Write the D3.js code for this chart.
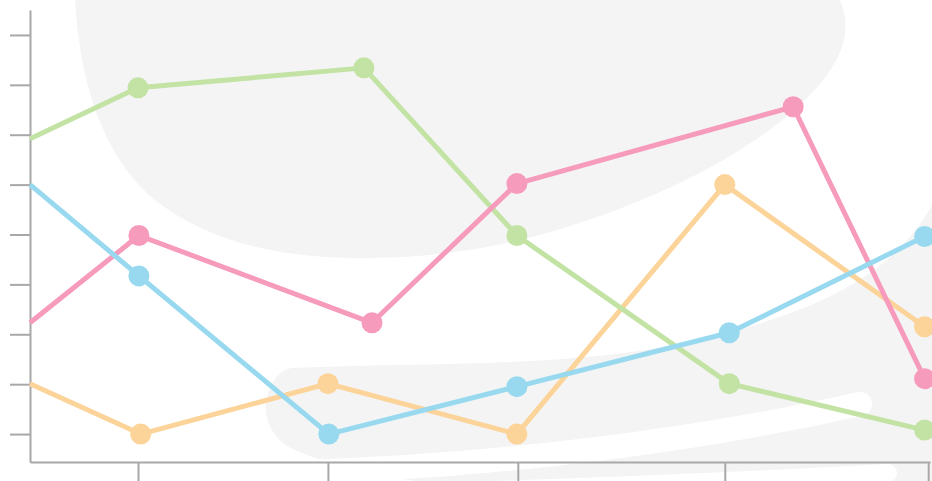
<!DOCTYPE html>
<html lang="en">
<head>
  <meta charset="utf-8">
  <title>Pastel lines</title>
  <style>
    html,body { margin:0; padding:0; overflow:hidden; background:#fff; }
    svg { display:block; }
    .axis path, .axis line { stroke:#a8a8a8; stroke-width:2px; }
  </style>
  <script src="https://d3js.org/d3.v7.min.js"></script>
</head>
<body>
  <svg width="932" height="481"></svg>
  <script>
  const width = 932, height = 481;

  /* ---- data ---- */
  const xTicks = [1.2, 3.31, 5.42, 7.72, 9.98];
  const yTicks = [1, 2, 3, 4, 5, 6, 7, 8, 9];

  const greenX  = [0, 1.2, 3.71, 5.41, 7.77, 9.94];
  const greenY  = [6.92, 7.94, 8.34, 4.98, 2.01, 1.08];
  const pinkX   = [0, 1.21, 3.8, 5.41, 8.48, 9.94];
  const pinkY   = [3.23, 4.98, 3.23, 6.02, 7.56, 2.11];
  const blueX   = [0, 1.21, 3.32, 5.41, 7.77, 9.94];
  const blueY   = [6.0, 4.17, 1.0, 1.95, 3.03, 4.96];
  const orangeX = [0, 1.23, 3.31, 5.41, 7.72, 9.94];
  const orangeY = [2.01, 1.0, 2.01, 1.0, 6.0, 3.15];

  const series = [
    { name: "orange", color: "#fcd398", xs: orangeX, ys: orangeY },
    { name: "green",  color: "#c2e3a4", xs: greenX,  ys: greenY },
    { name: "pink",   color: "#f69bbb", xs: pinkX,   ys: pinkY },
    { name: "blue",   color: "#98d9f0", xs: blueX,   ys: blueY }
  ];

  const svg = d3.select("svg");

  const x = d3.scaleLinear().domain([0, 10]).range([30, 930]);
  const y = d3.scaleLinear().domain([0.44, 9.5]).range([462, 10]);

  /* ---- soft grey background blobs ---- */
  const bg = svg.append("g");
  bg.append("path")
    .attr("fill", "#f4f4f4")
    .attr("d", "M75,0 L840,0 C852,28 846,60 805,100 C745,160 625,215 520,240 " +
               "C450,256 400,258 360,258 C270,258 200,238 150,196 C100,150 80,80 75,0 Z");
  bg.append("path")
    .attr("fill", "#f4f4f4")
    .attr("d", "M292,368 C420,362 560,368 680,344 C800,318 890,282 932,205 L932,481 L415,481 " +
               "C350,470 300,456 283,443 C268,430 262,412 268,393 C273,378 281,369 292,368 Z");
  bg.append("path")
    .attr("fill", "none").attr("stroke", "#fff").attr("stroke-width", 24)
    .attr("stroke-linecap", "round")
    .attr("d", "M300,472 C500,466 700,440 860,404");
  bg.append("path")
    .attr("fill", "none").attr("stroke", "#fff").attr("stroke-width", 18)
    .attr("stroke-linecap", "round")
    .attr("d", "M430,492 C600,487 760,480 888,473");

  /* ---- axes ---- */
  svg.append("g")
      .attr("class", "axis")
      .attr("transform", `translate(${x(0)},0)`)
      .call(d3.axisLeft(y).tickValues(yTicks).tickSize(20).tickSizeOuter(0).tickFormat(""));

  svg.append("g")
      .attr("class", "axis")
      .attr("transform", `translate(0,${y.range()[0]})`)
      .call(d3.axisBottom(x).tickValues(xTicks).tickSize(20).tickSizeOuter(0).tickFormat(""));

  /* ---- lines + dots ---- */
  const line = d3.line().x(d => x(d[0])).y(d => y(d[1]));

  series.forEach(s => {
    const pts = s.xs.map((v, i) => [v, s.ys[i]]);
    const g = svg.append("g");
    g.append("path")
      .attr("d", line(pts))
      .attr("fill", "none")
      .attr("stroke", s.color)
      .attr("stroke-width", 5)
      .attr("stroke-linejoin", "round");
    g.selectAll("circle")
      .data(pts.slice(1))
      .join("circle")
        .attr("cx", d => x(d[0]))
        .attr("cy", d => y(d[1]))
        .attr("r", 10.5)
        .attr("fill", s.color);
  });
  </script>
</body>
</html>
